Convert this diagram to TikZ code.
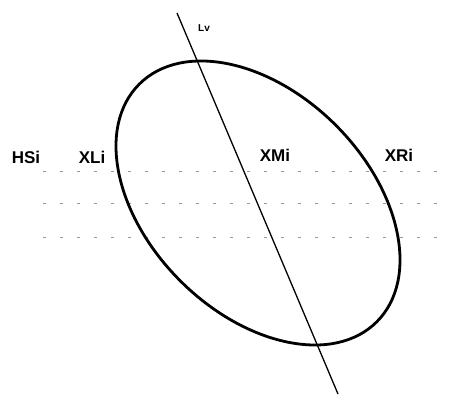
\documentclass[tikz,border=0pt]{standalone}
\usepackage{fontspec}
\setmainfont{Liberation Sans}
\usepackage{tikz}
\usetikzlibrary{positioning}

\begin{document}
\begin{tikzpicture}[
  x=1pt,y=1pt,
  lbl/.style={font=\fontsize{17}{17}\selectfont\bfseries,inner sep=0pt},
  small/.style={font=\fontsize{10}{10}\selectfont\bfseries,inner sep=0pt},
  scan/.style={gray!80,line width=1pt,dash pattern=on 3pt off 14pt},
  axis/.style={line width=1.3pt},
  contour/.style={line width=2.8pt}
]
  \useasboundingbox (0,0) rectangle (450,396);
  % horizontal scan lines
  \foreach \yy/\nm in {224/a,192/b,158/c} {
    \coordinate (s\nm) at (43,\yy);
    \coordinate (e\nm) at (450,\yy);
    \draw[scan] (s\nm) -- (e\nm);
  }
  % tilted contour
  \coordinate (ctr) at (258,193);
  \draw[contour,rotate around={-45:(ctr)}] (ctr) ellipse [x radius=168,y radius=110];
  % long axis
  \coordinate (lvtop) at (177,383);
  \coordinate (lvbot) at (338,2);
  \draw[axis] (lvtop) -- (lvbot);
  \node[small] (lv) at (204,368) {Lv};
  \node[lbl] (hsi) at (26,239) {HSi};
  \node[lbl] (xli) at (92,239) {XLi};
  \node[lbl] (xmi) at (275,241) {XMi};
  \node[lbl] (xri) at (399,241) {XRi};
\end{tikzpicture}
\end{document}
